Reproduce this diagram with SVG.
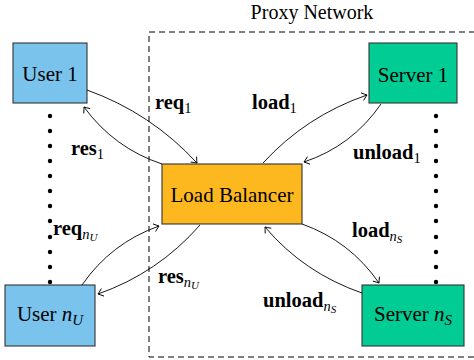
<svg xmlns="http://www.w3.org/2000/svg" width="474" height="360" viewBox="0 0 474 360">
<defs>
<style>
.node{stroke:#333;stroke-width:1.1}
.user{fill:#7AC3EC}
.server{fill:#00CC94}
.lb{fill:#FDB81F}
text{font-family:'Liberation Serif','Times New Roman',serif;fill:#000}
.nt{font-size:21px;text-anchor:middle}
.lbl{font-size:20.5px;font-weight:bold}
.sub{font-size:14.5px;font-weight:normal}
.ssub{font-size:11px;font-weight:normal;font-style:italic}
.it{font-style:italic;font-weight:normal}
.conn{fill:none;stroke:#000;stroke-width:0.9;marker-end:url(#arr)}
.dot{fill:#000}
</style>
<marker id="arr" viewBox="-6 -5 7 10" markerWidth="7" markerHeight="10" refX="0" refY="0" orient="auto" markerUnits="userSpaceOnUse">
<path d="M-5,-4 Q-1.2,-0.8 0,0 Q-1.2,0.8 -5,4" fill="none" stroke="#000" stroke-width="0.9"/>
</marker>
</defs>
<rect x="149" y="32" width="335" height="325" fill="none" stroke="#000" stroke-width="1" stroke-dasharray="6,4"/>
<text x="312" y="19" class="nt" style="font-size:20px">Proxy Network</text>
<g id="dots">
<circle class="dot" cx="50" cy="116" r="2.2"/><circle class="dot" cx="50" cy="131" r="2.2"/><circle class="dot" cx="50" cy="146" r="2.2"/><circle class="dot" cx="50" cy="161" r="2.2"/><circle class="dot" cx="50" cy="176" r="2.2"/><circle class="dot" cx="50" cy="191" r="2.2"/><circle class="dot" cx="50" cy="206" r="2.2"/><circle class="dot" cx="50" cy="221" r="2.2"/><circle class="dot" cx="50" cy="237" r="2.2"/><circle class="dot" cx="50" cy="252" r="2.2"/><circle class="dot" cx="50" cy="267" r="2.2"/><circle class="dot" cx="50" cy="282" r="2.2"/>
<circle class="dot" cx="436" cy="116" r="2.2"/><circle class="dot" cx="436" cy="131" r="2.2"/><circle class="dot" cx="436" cy="146" r="2.2"/><circle class="dot" cx="436" cy="161" r="2.2"/><circle class="dot" cx="436" cy="176" r="2.2"/><circle class="dot" cx="436" cy="191" r="2.2"/><circle class="dot" cx="436" cy="206" r="2.2"/><circle class="dot" cx="436" cy="221" r="2.2"/><circle class="dot" cx="436" cy="237" r="2.2"/><circle class="dot" cx="436" cy="252" r="2.2"/><circle class="dot" cx="436" cy="267" r="2.2"/><circle class="dot" cx="436" cy="282" r="2.2"/>
</g>
<g id="user1"><rect class="node user" x="13" y="43" width="74" height="60"/><text class="nt" x="50" y="81">User 1</text></g>
<g id="usernU"><rect class="node user" x="5" y="285" width="90" height="61"/><text class="nt" x="50" y="321">User <tspan font-style="italic">n</tspan><tspan font-style="italic" font-size="15" dy="4">U</tspan></text></g>
<g id="lb"><rect class="node lb" x="162" y="164" width="140" height="60"/><text class="nt" x="232" y="202">Load Balancer</text></g>
<g id="server1"><rect class="node server" x="369" y="43" width="88" height="60"/><text class="nt" x="413" y="82">Server 1</text></g>
<g id="servernS"><rect class="node server" x="362" y="285" width="102" height="61"/><text class="nt" x="413" y="321">Server <tspan font-style="italic">n</tspan><tspan font-style="italic" font-size="15" dy="4">S</tspan></text></g>
<g id="connectors">
<path class="conn" d="M87,90 Q151,113 197,163"/>
<path class="conn" d="M162,164 Q114,148 84,107"/>
<path class="conn" d="M263,163 Q306,116 367,95"/>
<path class="conn" d="M381,104 Q352,146 304,162"/>
<path class="conn" d="M82,285 Q111,243 159,226"/>
<path class="conn" d="M200,225 Q158,273 98,294"/>
<path class="conn" d="M302,224 Q350,241 379,283"/>
<path class="conn" d="M362,293 Q304,273 265,227"/>
</g>
<g id="labels">
<text class="lbl" x="155" y="109">req<tspan class="sub" dy="4">1</tspan></text>
<text class="lbl" x="252" y="109">load<tspan class="sub" dy="4">1</tspan></text>
<text class="lbl" x="71" y="155">res<tspan class="sub" dy="4">1</tspan></text>
<text class="lbl" x="353" y="159">unload<tspan class="sub" dy="4">1</tspan></text>
<text class="lbl" x="53" y="235">req<tspan class="sub it" dy="4">n</tspan><tspan class="ssub" dy="2">U</tspan></text>
<text class="lbl" x="158" y="283">res<tspan class="sub it" dy="4">n</tspan><tspan class="ssub" dy="2">U</tspan></text>
<text class="lbl" x="352" y="237">load<tspan class="sub it" dy="4">n</tspan><tspan class="ssub" dy="2">S</tspan></text>
<text class="lbl" x="263" y="307">unload<tspan class="sub it" dy="4">n</tspan><tspan class="ssub" dy="2">S</tspan></text>
</g>
</svg>
